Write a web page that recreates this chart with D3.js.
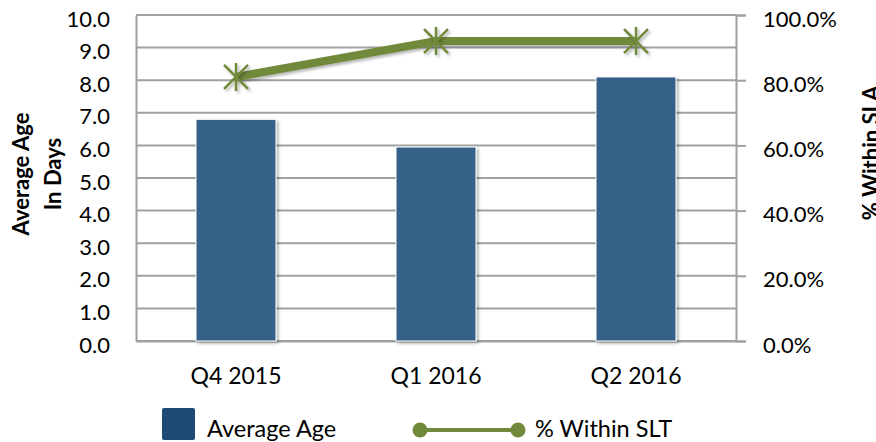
<!DOCTYPE html>
<html>
<head>
<meta charset="utf-8">
<script src="https://cdn.jsdelivr.net/npm/d3@7"></script>
<style>
  body { margin: 0; background: #fff; }
  text { font-family: Lato, "Open Sans", sans-serif; fill: #000; }
</style>
</head>
<body>
<svg id="chart" width="876" height="442"></svg>
<script>
const categories = ['Q4 2015', 'Q1 2016', 'Q2 2016'];
const averageAge = [6.8, 5.95, 8.1];
const withinSla = [0.81, 0.92, 0.92];
const leftTicks = d3.range(0, 10.01, 1);
const rightTicks = [0, 0.2, 0.4, 0.6, 0.8, 1.0];

const svg = d3.select('#chart');
const margin = { top: 15, left: 136, right: 140, bottom: 101 };
const width = 876 - margin.left - margin.right;
const height = 442 - margin.top - margin.bottom;

const defs = svg.append('defs');
const sh = defs.append('filter').attr('id', 'shadow').attr('x', '-20%').attr('y', '-20%').attr('width', '150%').attr('height', '150%');
sh.append('feDropShadow').attr('dx', 2).attr('dy', 2).attr('stdDeviation', 1.5).attr('flood-color', '#000').attr('flood-opacity', 0.3);

const g = svg.append('g').attr('transform', `translate(${margin.left},${margin.top})`);

const x = d3.scaleBand().domain(categories).range([0, width]).paddingInner(0.6).paddingOuter(0.3);
const y = d3.scaleLinear().domain([0, 10]).range([height, 0]);
const y2 = d3.scaleLinear().domain([0, 1]).range([height, 0]);

// gridlines
g.append('g')
  .selectAll('line')
  .data(leftTicks)
  .join('line')
  .attr('x1', 0).attr('x2', width)
  .attr('y1', d => y(d)).attr('y2', d => y(d))
  .attr('stroke', '#a0a0a0').attr('stroke-width', 2);

// left axis
const yAxis = g.append('g').call(d3.axisLeft(y).tickValues(leftTicks).tickSize(0).tickPadding(26).tickFormat(d3.format('.1f')));
yAxis.select('.domain').attr('stroke', '#a0a0a0').attr('stroke-width', 2);
yAxis.selectAll('text').attr('font-size', 22).attr('dy', '0.5em').style('font-family', 'Lato, sans-serif');

// right axis
const y2Axis = g.append('g').attr('transform', `translate(${width},0)`)
  .call(d3.axisRight(y2).tickValues(rightTicks).tickSize(10).tickPadding(17).tickFormat(d3.format('.1%')));
y2Axis.select('.domain').attr('stroke', '#a0a0a0').attr('stroke-width', 2);
y2Axis.selectAll('.tick line').attr('stroke', '#a0a0a0').attr('stroke-width', 2);
y2Axis.selectAll('text').attr('font-size', 22).attr('dy', '0.5em').style('font-family', 'Lato, sans-serif');

// x axis labels
const xAxis = g.append('g').attr('transform', `translate(0,${height})`)
  .call(d3.axisBottom(x).tickSize(0).tickPadding(27));
xAxis.select('.domain').attr('stroke', '#a0a0a0').attr('stroke-width', 2);
xAxis.selectAll('text').attr('font-size', 23).style('font-family', 'Lato, sans-serif');

// bars
g.selectAll('.bar')
  .data(averageAge)
  .join('rect')
  .attr('class', 'bar')
  .attr('x', (d, i) => x(categories[i]))
  .attr('y', d => y(d))
  .attr('width', x.bandwidth())
  .attr('height', d => height - y(d))
  .attr('fill', '#366087')
  .attr('stroke', '#fff').attr('stroke-width', 1)
  .attr('filter', 'url(#shadow)');

// line
const line = d3.line()
  .x((d, i) => x(categories[i]) + x.bandwidth() / 2)
  .y(d => y2(d));
g.append('path')
  .datum(withinSla)
  .attr('d', line)
  .attr('fill', 'none')
  .attr('stroke', '#71893a')
  .attr('stroke-width', 8)
  .attr('filter', 'url(#shadow)');

// star markers
const markers = g.selectAll('.marker')
  .data(withinSla)
  .join('g')
  .attr('class', 'marker')
  .attr('transform', (d, i) => `translate(${x(categories[i]) + x.bandwidth() / 2},${y2(d)})`)
  .attr('filter', 'url(#shadow)');
markers.append('path')
  .attr('d', 'M-12,-12L12,12M-12,12L12,-12M0,-14L0,14')
  .attr('stroke', '#71893a').attr('stroke-width', 2.5).attr('fill', 'none');

// axis titles
svg.append('text')
  .attr('transform', 'translate(0,174) rotate(-90)')
  .attr('text-anchor', 'middle')
  .attr('font-weight', 'bold').attr('font-size', 22)
  .selectAll('tspan')
  .data(['Average Age', 'In Days'])
  .join('tspan')
  .attr('x', 0)
  .attr('y', (d, i) => 29 + i * 32)
  .text(d => d);

svg.append('text')
  .attr('transform', 'translate(879,153) rotate(-90)')
  .attr('text-anchor', 'middle')
  .attr('font-weight', 'bold').attr('font-size', 22)
  .text('% Within SLA');

// legend
const legend = svg.append('g');
legend.append('rect')
  .attr('x', 162).attr('y', 408).attr('width', 33).attr('height', 32).attr('rx', 2)
  .attr('fill', '#1f4a75');
legend.append('text').attr('x', 207).attr('y', 437).attr('font-size', 23.5).text('Average Age');
legend.append('line')
  .attr('x1', 420).attr('x2', 518).attr('y1', 430).attr('y2', 430)
  .attr('stroke', '#71893a').attr('stroke-width', 4);
legend.selectAll('circle')
  .data([420, 518])
  .join('circle')
  .attr('cx', d => d).attr('cy', 430).attr('r', 7.5)
  .attr('fill', '#71893a');
legend.append('text').attr('x', 535).attr('y', 437).attr('font-size', 23.5).text('% Within SLT');
</script>
</body>
</html>
